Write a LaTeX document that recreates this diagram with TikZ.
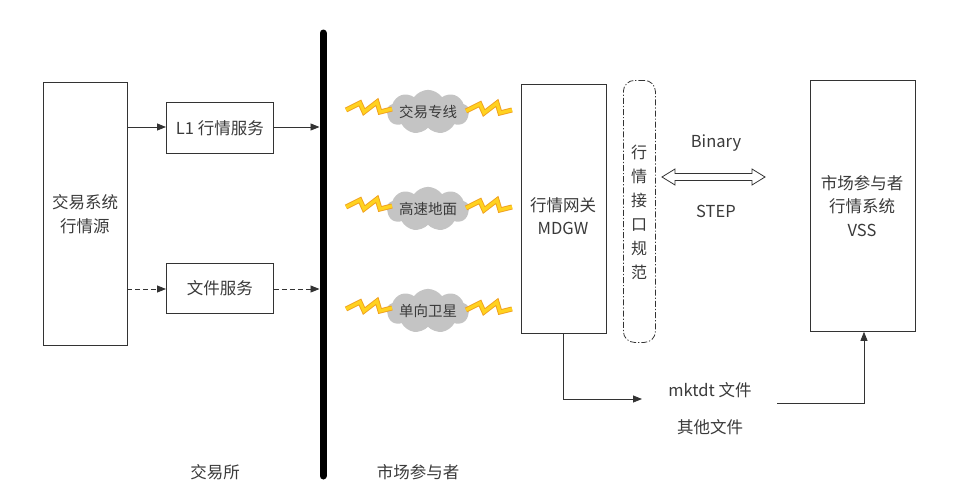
\documentclass[tikz,border=0pt]{standalone}
\usepackage{fontspec}
\setmainfont{Noto Sans CJK SC}
\usetikzlibrary{arrows.meta,shapes.symbols}
\definecolor{ln}{HTML}{333333}
\definecolor{tx}{HTML}{3A3A3A}
\definecolor{bolty}{HTML}{FFD21F}
\definecolor{bolto}{HTML}{F0A020}
\definecolor{cloudg}{HTML}{C4C4C4}
\tikzset{
  box/.style={draw=ln, line width=0.8pt, fill=white},
  lbl/.style={text=tx, font=\fontsize{16.5}{23.5}\selectfont, align=center},
  arr/.style={draw=ln, line width=0.8pt, -{Triangle[length=9pt,width=7pt]}},
  cloudlbl/.style={cloud, cloud puffs=9, cloud puff arc=110, aspect=2.6, fill=cloudg, draw=none, inner sep=0pt, minimum width=72pt, minimum height=27pt, text=tx, font=\fontsize{14.5}{16}\selectfont},
  boltline/.style={line width=5pt, draw=bolto, line join=miter, miter limit=3},
  boltfill/.style={line width=3.2pt, draw=bolty, line join=miter, miter limit=3},
}
\newcommand{\bolt}[2]{%
  \draw[boltline] (#1-22,#2+2) -- (#1-8,#2-5) -- (#1-4,#2+4) -- (#1+9,#2-6) -- (#1+12,#2+4) -- (#1+24,#2+1);
  \draw[boltfill] (#1-22,#2+2) -- (#1-8,#2-5) -- (#1-4,#2+4) -- (#1+9,#2-6) -- (#1+12,#2+4) -- (#1+24,#2+1);
}
\begin{document}
\begin{tikzpicture}[x=1pt,y=-1pt]
\useasboundingbox (0,0) rectangle (975,501);
\fill[white] (0,0) rectangle (975,501);

% left source box
\node[box, minimum width=84pt, minimum height=263pt, anchor=north west, inner sep=0pt] (src) at (43,82) {};
\node[lbl] (srct) at (85,214) {交易系统\\行情源};

% L1 and file service
\node[box, minimum width=107pt, minimum height=51pt, anchor=north west, inner sep=0pt] (l1) at (166,102) {};
\node[lbl] (l1t) at (l1.center) {L1 行情服务};
\node[box, minimum width=107pt, minimum height=50pt, anchor=north west, inner sep=0pt] (fs) at (166,263) {};
\node[lbl] (fst) at (fs.center) {文件服务};

% bar
\coordinate (bt) at (323,33);
\coordinate (bb) at (323,476);
\draw[black, line width=7pt, line cap=round] (bt) -- (bb);
\coordinate (b1) at (319.5,127);
\coordinate (b2) at (319.5,289);

\coordinate (s1) at (127,127);
\coordinate (s2) at (127,289);
\draw[arr] (s1) -- (l1.west |- s1);
\draw[arr] (l1.east |- s1) -- (b1);
\draw[arr, dash pattern=on 5pt off 3pt] (s2) -- (fs.west |- s2);
\draw[arr, dash pattern=on 5pt off 3pt] (fs.east |- s2) -- (b2);

% clouds and bolts
\node[cloudlbl] (c1) at (428,112) {交易专线};
\node[cloudlbl] (c2) at (428,209) {高速地面};
\node[cloudlbl] (c3) at (428,311) {单向卫星};
\bolt{368}{108}
\bolt{488}{109}
\bolt{368}{205}
\bolt{488}{206}
\bolt{368}{307}
\bolt{488}{308}

% MDGW
\node[box, minimum width=85pt, minimum height=249pt, anchor=north west, inner sep=0pt] (gw) at (521,84) {};
\node[lbl] (gwt) at (563,216) {行情网关\\MDGW};

% interface spec
\node[draw=ln, line width=0.8pt, rounded corners=11pt, dash pattern=on 6pt off 2pt on 1.2pt off 2pt, minimum width=32pt, minimum height=262pt, anchor=north west, inner sep=0pt] (spec) at (623,80) {};
\node[text=tx, font=\fontsize{16}{24}\selectfont, align=center] (spect) at (639,212) {行\\情\\接\\口\\规\\范};

% double arrow
\draw[ln, line width=0.8pt, fill=white, line join=miter]
  (662,177) -- (675,169) -- (675,173.5) -- (752,173.5) -- (752,169) -- (765,177)
  -- (752,185) -- (752,180.5) -- (675,180.5) -- (675,185) -- cycle;
\node[lbl] (bin) at (716,143) {Binary};
\node[lbl] (step) at (716,211) {STEP};

% VSS
\node[box, minimum width=105pt, minimum height=251pt, anchor=north west, inner sep=0pt] (vss) at (810,80) {};
\node[lbl] (vsst) at (862,206) {市场参与者\\行情系统\\VSS};

% files
\node[lbl] (mk) at (710,390) {mktdt 文件};
\node[lbl] (ot) at (710,427) {其他文件};
\coordinate (g1) at (563,399);
\coordinate (g2) at (642,399);
\draw[arr] (gw.south -| g1) -- (g1) -- (g2);
\coordinate (f1) at (777,403);
\coordinate (f2) at (864,403);
\draw[arr] (f1) -- (f2) -- (vss.south -| f2);

% bottom labels
\node[lbl] (ex) at (215,472) {交易所};
\node[lbl] (mp) at (418,472) {市场参与者};
\end{tikzpicture}
\end{document}
